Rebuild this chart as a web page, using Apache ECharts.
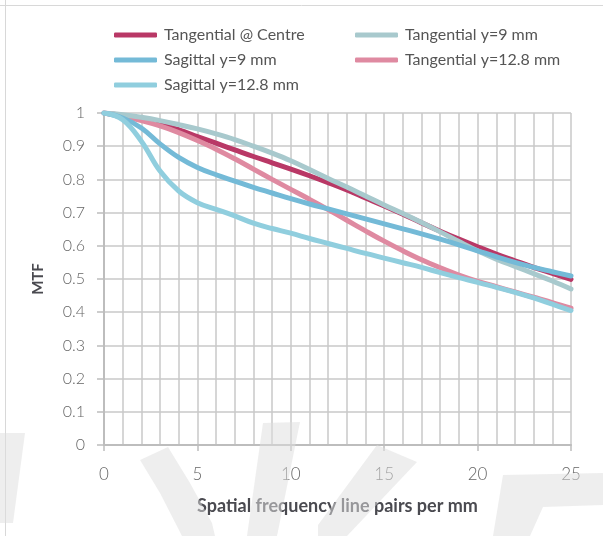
<!DOCTYPE html>
<html>
<head>
<meta charset="utf-8">
<script src="https://cdn.jsdelivr.net/npm/echarts@6/dist/echarts.min.js"></script>
<style>
html,body{margin:0;padding:0;background:#fff;}
#chart{width:603px;height:536px;}
</style>
</head>
<body>
<div id="chart"></div>
<script>
const freq = [0,1,2,3,4,5,6,7,8,9,10,11,12,13,14,15,16,17,18,19,20,21,22,23,24,25];
const tangentialCentre = [1,0.992,0.981,0.967,0.949,0.929,0.909,0.889,0.869,0.85,0.831,0.811,0.79,0.768,0.744,0.72,0.695,0.669,0.644,0.62,0.597,0.575,0.555,0.535,0.517,0.499];
const tangential9 = [1,0.995,0.987,0.977,0.965,0.952,0.937,0.92,0.9,0.879,0.856,0.83,0.803,0.777,0.75,0.723,0.697,0.67,0.642,0.613,0.585,0.56,0.538,0.516,0.494,0.47];
const sagittal9 = [1,0.985,0.955,0.907,0.866,0.836,0.814,0.795,0.776,0.759,0.742,0.726,0.711,0.696,0.681,0.666,0.651,0.636,0.62,0.603,0.585,0.567,0.55,0.535,0.522,0.509];
const tangential128 = [1,0.99,0.977,0.961,0.941,0.917,0.891,0.862,0.831,0.8,0.77,0.74,0.709,0.677,0.645,0.614,0.585,0.558,0.534,0.512,0.493,0.477,0.461,0.445,0.429,0.412];
const sagittal128 = [1,0.98,0.915,0.825,0.765,0.73,0.71,0.69,0.668,0.652,0.638,0.622,0.607,0.592,0.577,0.563,0.549,0.535,0.519,0.504,0.49,0.475,0.46,0.443,0.424,0.405];
const yTicks = ['0','0.1','0.2','0.3','0.4','0.5','0.6','0.7','0.8','0.9','1'];

const names = {
  tc: 'Tangential @ Centre',
  t9: 'Tangential y=9 mm',
  s9: 'Sagittal y=9 mm',
  t128: 'Tangential y=12.8 mm',
  s128: 'Sagittal y=12.8 mm'
};
const colors = {tc:'#b93866', t9:'#a8c9cd', s9:'#74bad7', t128:'#df8aa1', s128:'#90cede'};
function pairs(arr){ return freq.map((f,i)=>[f, arr[i]]); }
function mk(key, arr){
  return {
    name: names[key], type:'line', smooth:0.4, showSymbol:false, symbol:'none',
    xAxisIndex:0, yAxisIndex:0,
    data: pairs(arr),
    lineStyle:{color:colors[key], width:5, cap:'round'},
    itemStyle:{color:colors[key]}
  };
}
const fontFam = 'Lato, "Open Sans", sans-serif';
const legendCommon = {
  orient:'vertical', top:26, itemWidth:43, itemHeight:5, itemGap:7, padding:0,
  icon:'roundRect',
  textStyle:{fontSize:16, color:'#555', lineHeight:18, fontFamily:fontFam, padding:[0,0,0,2]},
};
const wm = 'rgba(222,222,222,0.52)';
const chart = echarts.init(document.getElementById('chart'));
chart.setOption({
  backgroundColor:'#fff',
  animation:false,
  graphic:[
    {type:'line', shape:{x1:0,y1:5.5,x2:603,y2:5.5}, style:{stroke:'#d8d8d8', lineWidth:1}, z:-10},
    {type:'line', shape:{x1:5.5,y1:0,x2:5.5,y2:536}, style:{stroke:'#d8d8d8', lineWidth:1}, z:-10},
    {type:'polygon', shape:{points:[[0,433],[25,433],[13,523],[0,523]]}, style:{fill:wm}, z:100},
    {type:'polygon', shape:{points:[[140,460],[168,447],[190,483],[212,523],[215,536],[182,536],[160,493]]}, style:{fill:wm}, z:100},
    {type:'polygon', shape:{points:[[263,423],[300,422],[277,536],[247,536]]}, style:{fill:wm}, z:100},
    {type:'polygon', shape:{points:[[377,445],[417,462],[347,536],[318,536],[318,525]]}, style:{fill:wm}, z:100},
    {type:'polygon', shape:{points:[[503,475],[603,473],[603,505],[543,507],[530,536],[493,536]]}, style:{fill:wm}, z:100}
  ],
  legend:[
    Object.assign({left:114, data:[names.tc, names.s9, names.s128]}, legendCommon),
    Object.assign({left:355, data:[names.t9, names.t128]}, legendCommon)
  ],
  grid:{left:104, right:32, top:113, bottom:91, containLabel:false},
  xAxis:[
    {type:'value', min:0, max:25, interval:1,
     axisLine:{show:false}, axisTick:{show:false}, axisLabel:{show:false},
     splitLine:{show:true, lineStyle:{color:'#c9c9c9', width:1.5}}},
    {type:'value', min:0, max:25, interval:5, position:'bottom',
     name:'Spatial frequency line pairs per mm', nameLocation:'middle', nameGap:52,
     nameTextStyle:{fontSize:18, fontWeight:'bold', color:'#4a4a50', fontFamily:fontFam},
     axisLine:{show:true, lineStyle:{color:'#bdbdbd', width:2}},
     axisTick:{show:true, length:6, lineStyle:{color:'#bdbdbd', width:1.5}},
     axisLabel:{margin:21, fontSize:17, color:'#666', fontFamily:fontFam, fontWeight:300},
     splitLine:{show:false}}
  ],
  yAxis:{type:'value', min:0, max:1, interval:0.1,
    name:'MTF', nameLocation:'middle', nameGap:58, nameRotate:90,
    nameTextStyle:{fontSize:15, fontWeight:'bold', color:'#4a4a50', fontFamily:fontFam},
    axisLine:{show:true, lineStyle:{color:'#bdbdbd', width:2}},
    axisTick:{show:true, length:7, lineStyle:{color:'#bdbdbd', width:1.5}},
    axisLabel:{margin:19, fontSize:16, color:'#666', fontFamily:fontFam, fontWeight:300,
      formatter:function(v){ return yTicks[Math.round(v*10)]; }},
    splitLine:{show:true, lineStyle:{color:'#c9c9c9', width:1.5}}
  },
  series:[
    mk('tc', tangentialCentre),
    mk('t128', tangential128),
    mk('t9', tangential9),
    mk('s9', sagittal9),
    mk('s128', sagittal128)
  ]
});
</script>
</body>
</html>
